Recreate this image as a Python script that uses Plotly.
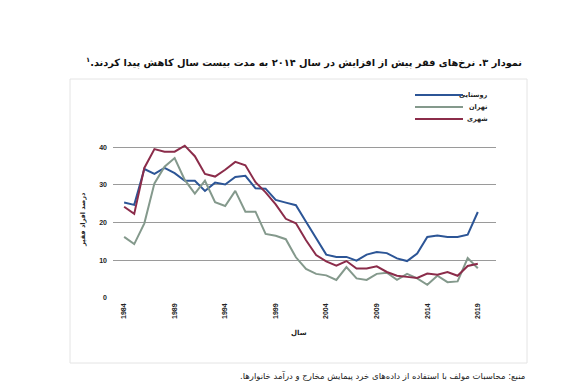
import plotly.graph_objects as go

# ---------------- data ----------------
years = list(range(1984, 2020))
rural = [25.3, 24.7, 34.2, 32.9, 34.5, 33.1, 31.1, 31.1, 28.4, 30.6, 30.1, 32.1, 32.4,
         29.1, 29.0, 26.0, 25.3, 24.6, 20.2, 15.8, 11.5, 10.9, 10.9, 9.9, 11.5, 12.2,
         11.9, 10.5, 9.8, 11.8, 16.2, 16.6, 16.2, 16.2, 16.8, 22.8]
tehran = [16.2, 14.3, 19.8, 30.4, 34.8, 37.1, 31.3, 27.7, 31.1, 25.4, 24.4, 28.4, 22.9,
          22.9, 17.0, 16.5, 15.6, 10.8, 7.7, 6.4, 6.0, 4.8, 8.2, 5.2, 4.8, 6.4,
          6.7, 4.8, 6.4, 5.2, 3.5, 5.9, 4.2, 4.4, 10.6, 7.9]
urban = [24.2, 22.3, 34.5, 39.5, 38.8, 38.8, 40.4, 37.6, 32.9, 32.2, 34.0, 36.1, 35.2,
         30.7, 28.0, 24.8, 21.0, 19.8, 15.3, 11.4, 9.7, 8.6, 9.8, 7.8, 7.8, 8.4,
         6.9, 5.9, 5.6, 5.3, 6.5, 6.2, 6.9, 5.9, 8.5, 9.1]
series_names = ["روستایی", "تهران", "شهری"]
series_values = [rural, tehran, urban]
series_colors = ["#2c5596", "#84998c", "#8b2c4a"]
x_tick_years = [1984, 1989, 1994, 1999, 2004, 2009, 2014, 2019]
y_ticks = [0, 10, 20, 30, 40]

RLM = "\u200f"
title_text = ("نمودار ۳. نرخ\u200cهای فقر پیش از افزایش در سال ۲۰۱۴ به مدت بیست سال کاهش پیدا کردند."
              + RLM + "<sup>۱</sup>" + RLM)
source_text = "منبع: محاسبات مولف با استفاده از داده\u200cهای خرد پیمایش مخارج و درآمد خانوارها." + RLM
y_title = "درصد افراد فقیر"
x_title = "سال"

# ---------------- layout geometry (pixels) ----------------
W, H = 582, 385
L, R, T, B = 105, 94, 109, 95
PW, PH = W - L - R, H - T - B


def px(x):
    return (x - L) / PW


def py(y):
    return (H - B - y) / PH


FA = "DejaVu Sans"

fig = go.Figure()
for name, vals, col in zip(series_names, series_values, series_colors):
    fig.add_trace(go.Scatter(x=years, y=vals, mode="lines", name=name,
                             line=dict(color=col, width=2), showlegend=False))

shapes = [dict(type="rect", xref="paper", yref="paper",
               x0=px(62), x1=px(519), y0=py(355), y1=py(71),
               line=dict(color="#e4e4e4", width=1), layer="below")]
annotations = [
    dict(text=title_text, xref="paper", yref="paper", x=px(516), y=py(54),
         xanchor="right", yanchor="middle", showarrow=False,
         font=dict(family=FA, size=9.8, color="#111", weight="bold")),
    dict(text=source_text, xref="paper", yref="paper", x=px(519), y=py(367),
         xanchor="right", yanchor="middle", showarrow=False,
         font=dict(family=FA, size=8.5, color="#222")),
    dict(text=y_title, xref="paper", yref="paper", x=px(75), y=py(212),
         xanchor="center", yanchor="middle", showarrow=False, textangle=-90,
         font=dict(family=FA, size=6.5, color="#222", weight="bold")),
    dict(text=x_title, xref="paper", yref="paper", x=px(291), y=py(325),
         xanchor="center", yanchor="middle", showarrow=False,
         font=dict(family=FA, size=7, color="#222", weight="bold")),
]
# legend (drawn as decoration)
leg_y = [87, 99, 111]
for name, col, yy in zip(series_names, series_colors, leg_y):
    shapes.append(dict(type="line", xref="paper", yref="paper",
                       x0=px(407), x1=px(455), y0=py(yy), y1=py(yy),
                       line=dict(color=col, width=2)))
    annotations.append(dict(text=name, xref="paper", yref="paper", x=px(482), y=py(yy),
                            xanchor="right", yanchor="middle", showarrow=False,
                            font=dict(family=FA, size=6.5, color="#222", weight="bold")))

fig.update_layout(
    width=W, height=H, margin=dict(l=L, r=R, t=T, b=B, autoexpand=False),
    paper_bgcolor="white", plot_bgcolor="white",
    shapes=shapes, annotations=annotations,
    xaxis=dict(range=[1982.9, 2020.8], tickvals=x_tick_years,
               ticktext=[str(v) for v in x_tick_years], tickangle=-90,
               showgrid=False, zeroline=False, showline=False, ticks="",
               ticklabelstandoff=3,
               tickfont=dict(family="Liberation Sans", size=7, color="#222", weight="bold")),
    yaxis=dict(range=[0, 48], tickvals=y_ticks, showgrid=True, gridcolor="#9a9a9a",
               gridwidth=1, zeroline=False, showline=False, ticks="",
               ticklabelstandoff=5,
               tickfont=dict(family="Liberation Sans", size=7, color="#222", weight="bold")),
)

fig.write_html("out.html")
